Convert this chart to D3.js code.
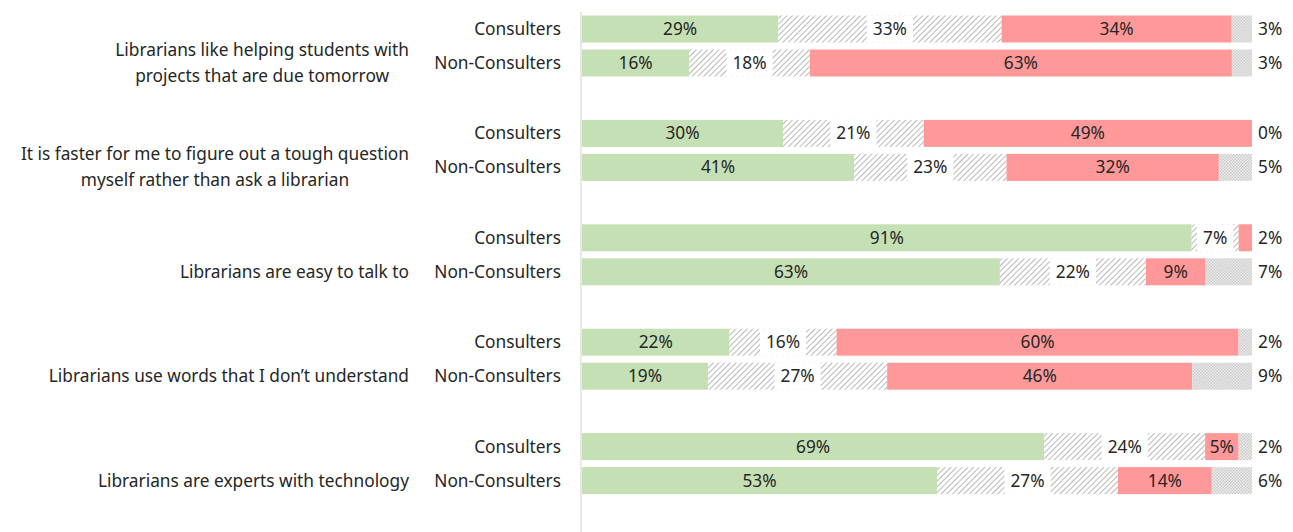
<!DOCTYPE html>
<html>
<head>
<meta charset="utf-8">
<script src="https://d3js.org/d3.v7.min.js"></script>
<style>
	body { margin: 0; background: #fff; }
	text { font-family: "Noto Sans", "Open Sans", sans-serif; fill: #262626; }
</style>
</head>
<body>
<div id="chart"></div>
<script>
	var questions = [
		["Librarians like helping students with", "projects that are due tomorrow"],
		["It is faster for me to figure out a tough question", "myself rather than ask a librarian"],
		["Librarians are easy to talk to"],
		["Librarians use words that I don\u2019t understand"],
		["Librarians are experts with technology"]
	];
	var groups = ["Consulters", "Non-Consulters"];

	// one value per bar, question by question, Consulters first
	var agree = [29, 16, 30, 41, 91, 63, 22, 19, 69, 53];
	var neutral = [33, 18, 21, 23, 7, 22, 16, 27, 24, 27];
	var disagree = [34, 63, 49, 32, 2, 9, 60, 46, 5, 14];
	var dontKnow = [3, 3, 0, 5, 0, 7, 2, 9, 2, 6];

	var W = 1293, H = 532;
	var fontSize = 17.3;

	var svg = d3.select("#chart").append("svg")
		.attr("width", W)
		.attr("height", H);

	var defs = svg.append("defs");
	var hatch = defs.append("pattern")
		.attr("id", "hatch")
		.attr("patternUnits", "userSpaceOnUse")
		.attr("width", 4).attr("height", 4)
		.attr("patternTransform", "rotate(45)");
	hatch.append("rect").attr("width", 4).attr("height", 4).attr("fill", "#fff");
	hatch.append("line").attr("x1", 0).attr("y1", 0).attr("x2", 0).attr("y2", 4)
		.attr("stroke", "#999").attr("stroke-width", 1.4);

	var dots = defs.append("pattern")
		.attr("id", "dots")
		.attr("patternUnits", "userSpaceOnUse")
		.attr("width", 3).attr("height", 3);
	dots.append("rect").attr("width", 3).attr("height", 3).attr("fill", "#f4f4f4");
	dots.append("rect").attr("width", 1.5).attr("height", 1.5).attr("fill", "#c4c4c4");
	dots.append("rect").attr("x", 1.5).attr("y", 1.5).attr("width", 1.5).attr("height", 1.5).attr("fill", "#c4c4c4");

	var qKeys = questions.map(function(d, i) { return "q" + i; });
	var y0 = d3.scaleBand().domain(qKeys).range([12, 534]);
	var y1 = d3.scaleBand().domain(groups).range([3.5, 64.5]).paddingInner(0.206);
	var x = d3.scaleLinear().domain([0, 100]).range([582, 1252]);

	var fills = ["#c5e0b4", "url(#hatch)", "#ff9999", "url(#dots)"];

	var rows = [];
	qKeys.forEach(function(q, qi) {
		groups.forEach(function(g, gi) {
			var i = qi * 2 + gi;
			var vals = [agree[i], neutral[i], disagree[i], dontKnow[i]];
			// shown values are rounded, so each bar is rescaled to fill 100%
			var total = d3.sum(vals);
			var start = 0;
			var segs = vals.map(function(v, k) {
				var w = v * 100 / total;
				var s = { k: k, v: v, x0: start, x1: start + w };
				start += w;
				return s;
			});
			rows.push({ q: q, g: g, segs: segs, y: y0(q) + y1(g) });
		});
	});

	var bw = y1.bandwidth();

	// axis line
	svg.append("line")
		.attr("x1", 581).attr("x2", 581)
		.attr("y1", 12).attr("y2", H)
		.attr("stroke", "#d9d9d9").attr("stroke-width", 1.2);

	var rowG = svg.selectAll("g.row")
		.data(rows)
		.enter().append("g")
		.attr("class", "row")
		.attr("transform", function(d) { return "translate(0," + d.y + ")"; });

	rowG.selectAll("rect.seg")
		.data(function(d) { return d.segs.filter(function(s) { return s.v > 0; }); })
		.enter().append("rect")
		.attr("class", "seg")
		.attr("x", function(s) { return x(s.x0); })
		.attr("width", function(s) { return x(s.x1) - x(s.x0); })
		.attr("height", bw)
		.attr("fill", function(s) { return fills[s.k]; });

	function fmt(v) { return v + "%"; }

	rowG.each(function(d) {
		var g = d3.select(this);
		var a = d.segs[0], n = d.segs[1], r = d.segs[2], dk = d.segs[3];
		var cy = bw / 2;

		g.append("text")
			.attr("x", (x(a.x0) + x(a.x1)) / 2).attr("y", cy)
			.attr("dy", "0.35em").attr("text-anchor", "middle")
			.style("font-size", fontSize + "px")
			.text(fmt(a.v));

		// neutral label sits on a white box over the hatch
		var nt = g.append("text")
			.attr("x", (x(n.x0) + x(n.x1)) / 2).attr("y", cy)
			.attr("dy", "0.35em").attr("text-anchor", "middle")
			.style("font-size", fontSize + "px")
			.text(fmt(n.v));
		var tw = nt.node().getComputedTextLength();
		var boxW = Math.min(tw + 12, x(n.x1) - x(n.x0) - 6);
		g.insert("rect", function() { return nt.node(); })
			.attr("x", (x(n.x0) + x(n.x1)) / 2 - boxW / 2)
			.attr("width", boxW).attr("height", bw)
			.attr("fill", "#fff");

		var outside = dk.v;
		if (r.v >= 3) {
			g.append("text")
				.attr("x", (x(r.x0) + x(r.x1)) / 2).attr("y", cy)
				.attr("dy", "0.35em").attr("text-anchor", "middle")
				.style("font-size", fontSize + "px")
				.text(fmt(r.v));
		} else {
			outside = r.v;
		}
		g.append("text")
			.attr("x", x(100) + 6).attr("y", cy)
			.attr("dy", "0.35em")
			.style("font-size", fontSize + "px")
			.text(fmt(outside));
	});

	// group labels
	rowG.append("text")
		.attr("x", 561).attr("y", bw / 2)
		.attr("dy", "0.35em").attr("text-anchor", "end")
		.style("font-size", fontSize + "px")
		.text(function(d) { return d.g; });

	// question labels, block right aligned, lines centred, centred on Non-Consulters row
	var lineH = 26;
	qKeys.forEach(function(q, qi) {
		var lines = questions[qi];
		var cy = y0(q) + y1("Non-Consulters") + bw / 2;
		var t = svg.append("g");
		var texts = lines.map(function(l, li) {
			return t.append("text")
				.attr("y", cy + (li - (lines.length - 1) / 2) * lineH)
				.attr("dy", "0.35em").attr("text-anchor", "middle")
				.style("font-size", fontSize + "px")
				.text(l);
		});
		var maxW = d3.max(texts, function(s) { return s.node().getComputedTextLength(); });
		texts.forEach(function(s) { s.attr("x", 409 - maxW / 2); });
	});
</script>
</body>
</html>
